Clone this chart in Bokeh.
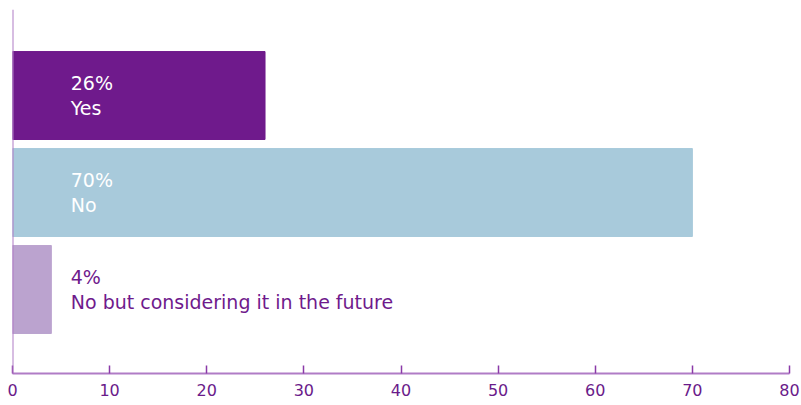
from bokeh.plotting import figure
from bokeh.models import ColumnDataSource, Range1d, Span, FixedTicker
from bokeh.core.properties import value
from bokeh.embed import file_html
from bokeh.resources import INLINE

categories = ["Yes", "No", "No but considering it in the future"]
percents = [26, 70, 4]
positions = [2, 1, 0]
colors = ["#6f1a8c", "#a8cadb", "#bba3cf"]
label_colors = ["#ffffff", "#ffffff", "#6f1a8c"]
x_ticks = [0, 10, 20, 30, 40, 50, 60, 70, 80]

labels = [f"{v}%\n{c}" for v, c in zip(percents, categories)]
label_x = [6] * len(categories)

src = ColumnDataSource(dict(cat=categories, val=percents, y=positions, color=colors,
                            label=labels, lx=label_x, lcolor=label_colors))

p = figure(width=801, height=405, output_backend="svg", toolbar_location=None,
           x_range=Range1d(0, 80), y_range=Range1d(-0.866, 2.887),
           min_border_left=12, min_border_right=12, min_border_top=9, min_border_bottom=32)
p.outline_line_color = None
p.grid.visible = False
p.yaxis.visible = False

p.hbar(y="y", right="val", left=0, height=0.907, color="color", source=src)
p.text(x="lx", y="y", text="label", text_color="lcolor", source=src,
       text_font=value("DejaVu Sans"), text_font_size="19px",
       text_baseline="middle", text_align="left", text_line_height=1.15)

p.add_layout(Span(location=0, dimension="height", line_color="#b07cc6", line_width=2))

ax = p.xaxis[0]
ax.ticker = FixedTicker(ticks=x_ticks)
ax.axis_line_color = "#b07cc6"
ax.axis_line_width = 2
ax.major_tick_in = 8
ax.major_tick_out = 0
ax.major_tick_line_color = "#8a3aa8"
ax.major_tick_line_width = 1.5
ax.minor_tick_line_color = None
ax.major_label_text_color = "#6a1b8a"
ax.major_label_text_font = "DejaVu Sans"
ax.major_label_text_font_size = "16px"
ax.major_label_standoff = 10

open("out.html", "w").write(file_html(p, INLINE))
